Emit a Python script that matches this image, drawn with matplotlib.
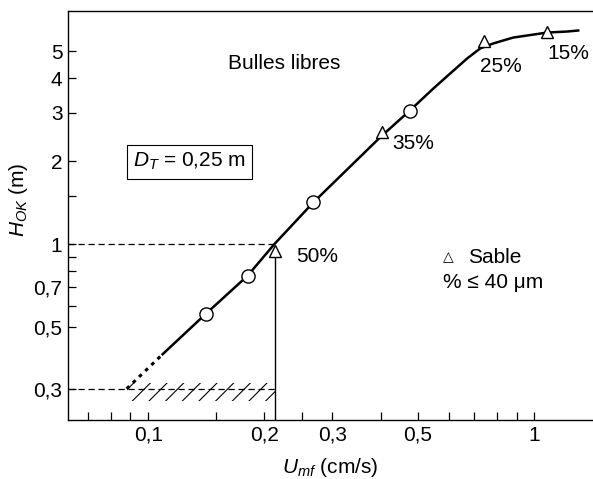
import matplotlib
matplotlib.use("Agg")
import matplotlib.pyplot as plt
from matplotlib.ticker import FixedLocator, NullFormatter

plt.rcParams['font.family'] = ['Liberation Sans', 'DejaVu Sans']
plt.rcParams['mathtext.fontset'] = 'custom'
plt.rcParams['mathtext.rm'] = 'Liberation Sans'
plt.rcParams['mathtext.it'] = 'Liberation Sans:italic'
plt.rcParams['hatch.linewidth'] = 0.8

# curve (Umf cm/s, H_OK m)
curve_x = [0.109, 0.141, 0.181, 0.212, 0.268, 0.40, 0.476, 0.547, 0.605,
           0.670, 0.724, 0.783, 0.882, 0.994, 1.081, 1.218, 1.30]
curve_y = [0.40, 0.56, 0.77, 1.0, 1.42, 2.45, 3.05, 3.66, 4.15,
           4.71, 5.12, 5.34, 5.61, 5.75, 5.85, 5.90, 5.95]
# extrapolated part (dotted)
extra_x = [0.088, 0.109]
extra_y = [0.30, 0.40]

circle_x = [0.141, 0.181, 0.268, 0.476]
circle_y = [0.56, 0.77, 1.42, 3.05]

tri_x = [0.213, 0.403, 0.741, 1.081]
tri_y = [0.95, 2.55, 5.43, 5.90]
tri_lab = ['50%', '35%', '25%', '15%']
tri_lab_x = [0.242, 0.43, 0.724, 1.081]
tri_lab_y = [0.904, 2.31, 4.40, 4.91]

x_major = [0.1, 0.2, 0.3, 0.5, 1]
x_major_lab = ['0,1', '0,2', '0,3', '0,5', '1']
x_minor = [0.07, 0.08, 0.09, 0.15, 0.25, 0.4, 0.6, 0.7, 0.8, 0.9]
y_major = [0.3, 0.5, 0.7, 1, 2, 3, 4, 5]
y_major_lab = ['0,3', '0,5', '0,7', '1', '2', '3', '4', '5']
y_minor = [0.6, 0.8, 0.9, 1.5]

x_lim = (0.062, 1.42)
y_lim = (0.231, 7.0)
u_crit = 0.213   # vertical line
h_low = 0.3      # minimum height
h_one = 1.0

fs = 15

fig = plt.figure(figsize=(5.93, 4.79), dpi=100)
ax = fig.add_axes([0.1147, 0.123, 0.8853, 0.854])
ax.set_xscale('log')
ax.set_yscale('log')
ax.set_xlim(*x_lim)
ax.set_ylim(*y_lim)

# guide lines
ax.plot([x_lim[0], u_crit], [h_one, h_one], color='black', lw=0.9, dashes=(5, 3))
ax.plot([x_lim[0], u_crit], [h_low, h_low], color='black', lw=0.9, dashes=(5, 3))
ax.plot([u_crit, u_crit], [y_lim[0], 0.93], color='black', lw=1.0)
ax.fill_between([0.088, u_crit], [0.27, 0.27], [0.315, 0.315], facecolor='none',
                edgecolor='black', hatch='//', lw=0)

# curve
ax.plot(curve_x, curve_y, color='black', lw=1.8, solid_joinstyle='round')
ax.plot(extra_x, extra_y, color='black', lw=2.2, dashes=(1.2, 1.6))
ax.plot(circle_x, circle_y, 'o', ms=9.5, mfc='white', mec='black', mew=1.0)
ax.plot(tri_x, tri_y, '^', ms=9, mfc='white', mec='black', mew=1.0)

for lab, lx, ly in zip(tri_lab, tri_lab_x, tri_lab_y):
    ax.text(lx, ly, lab, fontsize=fs, ha='left', va='center')

ax.text(0.2255, 4.51, 'Bulles libres', fontsize=fs, ha='center', va='center')
ax.text(0.128, 1.99, r'$D_T$ = 0,25 m', fontsize=fs, ha='center', va='center',
        bbox=dict(boxstyle='square,pad=0.3', fc='white', ec='black', lw=0.8))
ax.text(0.580, 0.90, '\u25b3', fontsize=10, ha='left', va='center',
        family=['DejaVu Sans'])
ax.text(0.673, 0.897, 'Sable', fontsize=fs, ha='left', va='center')
ax.text(0.580, 0.727, '% \u2264 40 \u03bcm', fontsize=fs, ha='left', va='center')

# axes styling
ax.spines['right'].set_visible(False)
for s in ['left', 'bottom', 'top']:
    ax.spines[s].set_linewidth(1.0)
ax.xaxis.set_major_locator(FixedLocator(x_major))
ax.xaxis.set_minor_locator(FixedLocator(x_minor))
ax.set_xticklabels(x_major_lab)
ax.xaxis.set_minor_formatter(NullFormatter())
ax.yaxis.set_major_locator(FixedLocator(y_major))
ax.yaxis.set_minor_locator(FixedLocator(y_minor))
ax.set_yticklabels(y_major_lab)
ax.yaxis.set_minor_formatter(NullFormatter())
ax.tick_params(which='both', direction='in', length=5.5, width=0.9,
               labelsize=fs, top=False, right=False)
ax.tick_params(axis='x', pad=4)
ax.tick_params(axis='y', pad=4)

ax.set_xlabel(r'$U_{mf}$ (cm/s)', fontsize=fs)
ax.set_ylabel(r'$H_{OK}$ (m)', fontsize=fs)
ax.xaxis.set_label_coords(0.5, -0.087)
ax.yaxis.set_label_coords(-0.072, 0.538)

fig.savefig('out.png', dpi=100)
